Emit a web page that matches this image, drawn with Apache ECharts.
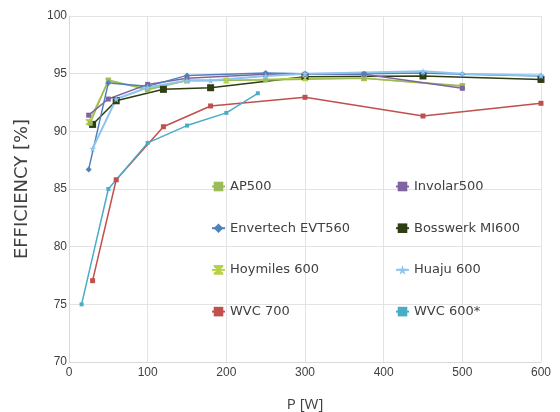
<!DOCTYPE html>
<html>
<head>
<meta charset="utf-8">
<script src="https://cdn.jsdelivr.net/npm/echarts@6/dist/echarts.min.js"></script>
<style>
  html, body { margin: 0; padding: 0; background: #fff; }
  #chart { width: 560px; height: 412px; }
</style>
</head>
<body>
<div id="chart"></div>
<script>
// Datos: [P en W, eficiencia en %]
const ap500 = [[27, 90.7], [50, 94.45], [100, 93.6], [150, 94.4], [250, 94.45], [375, 94.6], [500, 93.95]];
const involar500 = [[25, 91.4], [50, 92.8], [100, 94.07], [150, 94.6], [250, 94.95], [300, 94.95], [375, 94.95], [500, 93.73]];
const envertech = [[25, 86.7], [50, 94.2], [100, 93.9], [150, 94.85], [250, 95.05], [300, 95.0], [375, 95.0], [450, 95.05], [500, 94.95], [600, 94.8]];
const bosswerk = [[30, 90.6], [60, 92.65], [120, 93.64], [180, 93.78], [300, 94.74], [450, 94.8], [600, 94.5]];
const hoymiles = [[25, 90.8], [50, 94.35], [100, 93.7], [150, 94.4], [200, 94.4], [300, 94.6], [375, 94.6], [500, 93.9]];
const huaju = [[30, 88.5], [60, 92.8], [100, 93.8], [150, 94.4], [180, 94.4], [250, 94.8], [300, 95.0], [450, 95.2], [500, 95.0], [600, 94.85]];
const wvc700 = [[30, 77.05], [60, 85.8], [120, 90.4], [180, 92.2], [300, 92.95], [450, 91.33], [600, 92.43]];
const wvc600 = [[16, 75.0], [50, 85.0], [100, 89.0], [150, 90.5], [200, 91.6], [240, 93.3]];

const xTicks = { min: 0, max: 600, interval: 100 };
const yTicks = { min: 70, max: 100, interval: 5 };

const starPath = 'path://M50,0 L61,35 L98,35 L68,57 L79,91 L50,70 L21,91 L32,57 L2,35 L39,35 Z';
const hourglassPath = 'path://M0,0 L10,0 L10,2 L6,5 L10,8 L10,10 L0,10 L0,8 L4,5 L0,2 Z';

const chart = echarts.init(document.getElementById('chart'));

function serie(name, data, color, symbol, size, width) {
    return {
        name: name,
        type: 'line',
        data: data,
        symbol: symbol,
        symbolSize: size,
        showSymbol: true,
        lineStyle: { color: color, width: width || 1.5 },
        itemStyle: { color: color },
        emphasis: { disabled: true },
        animation: false
    };
}

const legendText = { fontFamily: 'DejaVu Sans', fontSize: 13, color: '#404040' };

chart.setOption({
    backgroundColor: '#fff',
    grid: { left: 69, right: 19, top: 16, bottom: 50, outerBoundsMode: 'none' },
    legend: [
        {
            data: ['AP500', 'Envertech EVT560', 'Hoymiles 600', 'WVC 700'],
            orient: 'vertical',
            left: 206, top: 175,
            itemWidth: 13, itemHeight: 12, itemGap: 28.7,
            textStyle: legendText
        },
        {
            data: ['Involar500', 'Bosswerk MI600', 'Huaju 600', 'WVC 600*'],
            orient: 'vertical',
            left: 390, top: 175,
            itemWidth: 13, itemHeight: 12, itemGap: 28.7,
            textStyle: legendText
        }
    ],
    xAxis: {
        type: 'value',
        min: xTicks.min, max: xTicks.max, interval: xTicks.interval,
        name: 'P [W]',
        nameLocation: 'middle',
        nameGap: 35,
        nameTextStyle: { fontFamily: 'Open Sans', fontSize: 15, color: '#404040' },
        axisLine: { lineStyle: { color: '#d9d9d9' } },
        axisTick: { show: false },
        axisLabel: { fontFamily: 'Liberation Sans', fontSize: 12, color: '#404040', margin: 5 },
        splitLine: { lineStyle: { color: '#e3e3e3' } }
    },
    yAxis: {
        type: 'value',
        min: yTicks.min, max: yTicks.max, interval: yTicks.interval,
        name: 'EFFICIENCY [%]',
        nameLocation: 'middle',
        nameGap: 38,
        nameTextStyle: { fontFamily: 'DejaVu Sans', fontSize: 18, color: '#404040' },
        axisLine: { show: true, lineStyle: { color: '#d9d9d9' } },
        axisTick: { show: false },
        axisLabel: { fontFamily: 'Liberation Sans', fontSize: 12, color: '#404040', margin: 2 },
        splitLine: { lineStyle: { color: '#e3e3e3' } }
    },
    series: [
        serie('WVC 700', wvc700, '#c0504d', 'rect', 5),
        serie('WVC 600*', wvc600, '#4bacc6', 'rect', 4),
        serie('Bosswerk MI600', bosswerk, '#2e3d12', 'rect', 7),
        serie('Hoymiles 600', hoymiles, '#b7d24a', hourglassPath, 6),
        serie('AP500', ap500, '#9bbb59', 'rect', 5),
        serie('Involar500', involar500, '#8064a2', 'rect', 5),
        serie('Envertech EVT560', envertech, '#4f81bd', 'diamond', 6),
        serie('Huaju 600', huaju, '#8ec5ee', starPath, 7, 2)
    ]
});
</script>
</body>
</html>
